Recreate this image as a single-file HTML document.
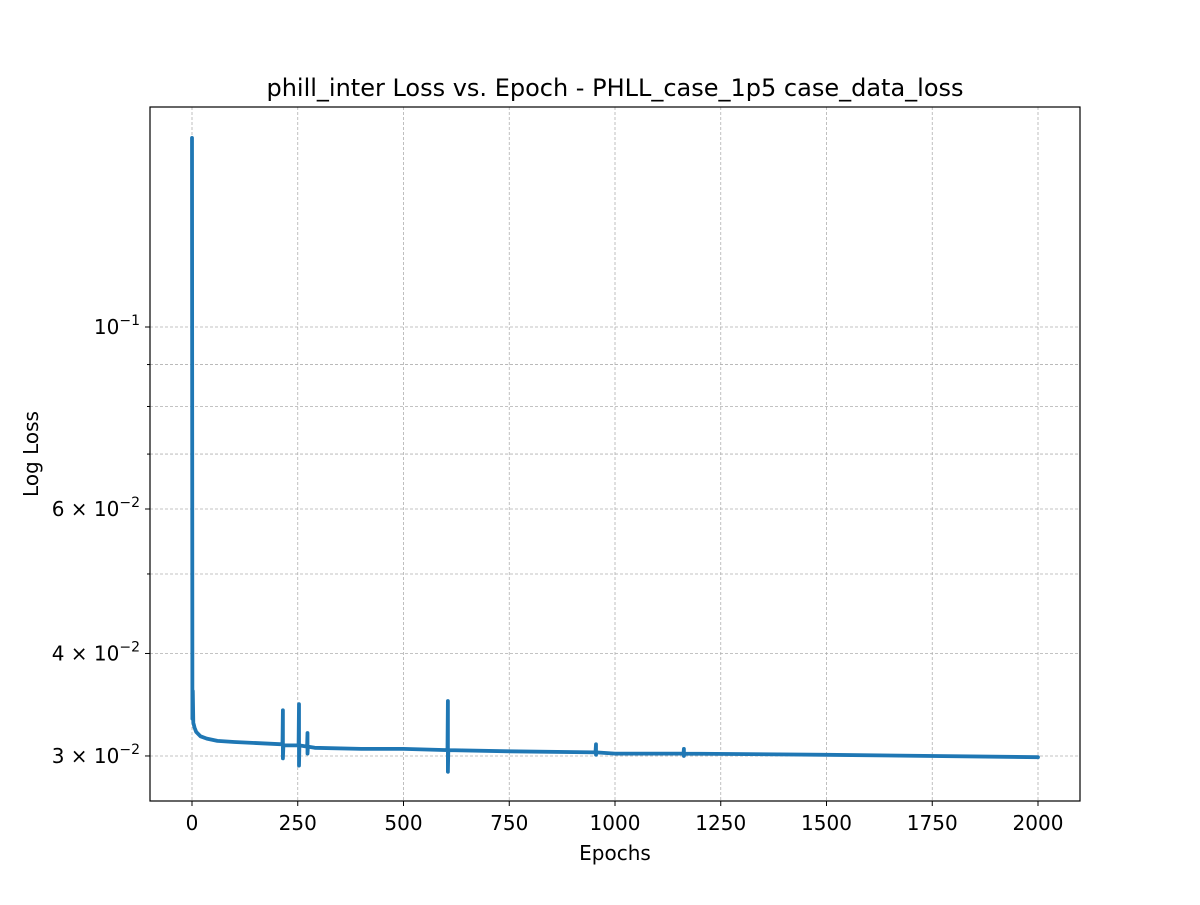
<!DOCTYPE html>
<html><head><meta charset="utf-8"><style>
body{margin:0;background:#fff;}
svg text{font-family:"DejaVu Sans","Liberation Sans",sans-serif;fill:#000;}
</style></head><body>
<svg id="chart" width="1200" height="900" xmlns="http://www.w3.org/2000/svg">
<rect width="1200" height="900" fill="#fff"/>
<g id="grid"></g>
<g id="series"></g>
<rect x="150" y="107" width="930" height="694" fill="none" stroke="#000" stroke-width="1.2"/>
<g id="axes"></g>
<text x="615" y="96" font-size="24" text-anchor="middle">phill_inter Loss vs. Epoch - PHLL_case_1p5 case_data_loss</text>
<text x="615" y="860" font-size="20" text-anchor="middle">Epochs</text>
<text x="38" y="454" font-size="20" text-anchor="middle" transform="rotate(-90 38 454)">Log Loss</text>
</svg>
<script>
const xTicks=[0,250,500,750,1000,1250,1500,1750,2000];
const yMajor=[0.1,0.06,0.04,0.03];
const yMajorLabels=[["10","−1"],["6 × 10","−2"],["4 × 10","−2"],["3 × 10","−2"]];
const yMinor=[0.09,0.08,0.07,0.05];
const epochs=[0,1,2,3,4,6,10,20,35,60,100,214,215,215,216,252,253,253,254,272,273,273,274,290,400,500,604,605,605,606,750,954,955,955,956,1000,1162,1163,1163,1164,1500,2000];
const loss=[0.170,0.0333,0.0360,0.0329,0.0328,0.0325,0.0321,0.0317,0.0315,0.0313,0.0312,0.0310,0.0341,0.0298,0.0309,0.0309,0.0347,0.0292,0.0309,0.0308,0.0320,0.0302,0.0308,0.0307,0.0306,0.0306,0.0305,0.0350,0.0287,0.0305,0.0304,0.0303,0.0310,0.0301,0.0303,0.0302,0.0302,0.0306,0.0300,0.0302,0.0301,0.0299];
const NS="http://www.w3.org/2000/svg";
const X=e=>192+(e-0)*(1038-192)/2000;
const Y=v=>327-(Math.log10(v)+1)*820.4;
const grid=document.getElementById('grid'),axes=document.getElementById('axes'),series=document.getElementById('series');
function mk(p,tag,at){const el=document.createElementNS(NS,tag);for(const k in at)el.setAttribute(k,at[k]);p.appendChild(el);return el;}
xTicks.forEach(t=>{const x=X(t);
 const g=mk(grid,'line',{x1:x,x2:x,y1:107,y2:801,stroke:'#b0b0b0','stroke-width':0.8,'stroke-dasharray':'3,2'});
 
 
 const tk=mk(axes,'line',{x1:x,x2:x,y1:801,y2:806,stroke:'#000'});
 
 
 const tx=mk(axes,'text',{x:x,y:830,'font-size':20,'text-anchor':'middle'});tx.textContent=t;
 
 
});
yMajor.concat(yMinor).forEach(v=>{const y=Y(v);
 const g=mk(grid,'line',{x1:150,x2:1080,y1:y,y2:y,stroke:'#b0b0b0','stroke-width':0.8,'stroke-dasharray':'3,2'});
 
 
});
yMinor.forEach(v=>{const y=Y(v);const tk=mk(axes,'line',{x1:147,x2:150,y1:y,y2:y,stroke:'#000'});
 
 });
yMajor.forEach((v,i)=>{const y=Y(v);
 const tk=mk(axes,'line',{x1:145,x2:150,y1:y,y2:y,stroke:'#000'});
 
 
 const tx=mk(axes,'text',{x:140,y:y+7,'font-size':20,'text-anchor':'end'});
 
 
 const a=document.createElementNS(NS,'tspan');a.textContent=yMajorLabels[i][0];tx.appendChild(a);
 const b=document.createElementNS(NS,'tspan');b.setAttribute('dy','-9');b.setAttribute('font-size','14');b.textContent=yMajorLabels[i][1];tx.appendChild(b);
});
const d=epochs.map((e,i)=>(i?'L':'M')+X(e).toFixed(1)+','+Y(loss[i]).toFixed(1)).join(' ');
const p=mk(series,'path',{d:d,fill:'none',stroke:'#1f77b4','stroke-width':3.8,'stroke-linejoin':'round','stroke-linecap':'round'});


</script>
</body></html>
